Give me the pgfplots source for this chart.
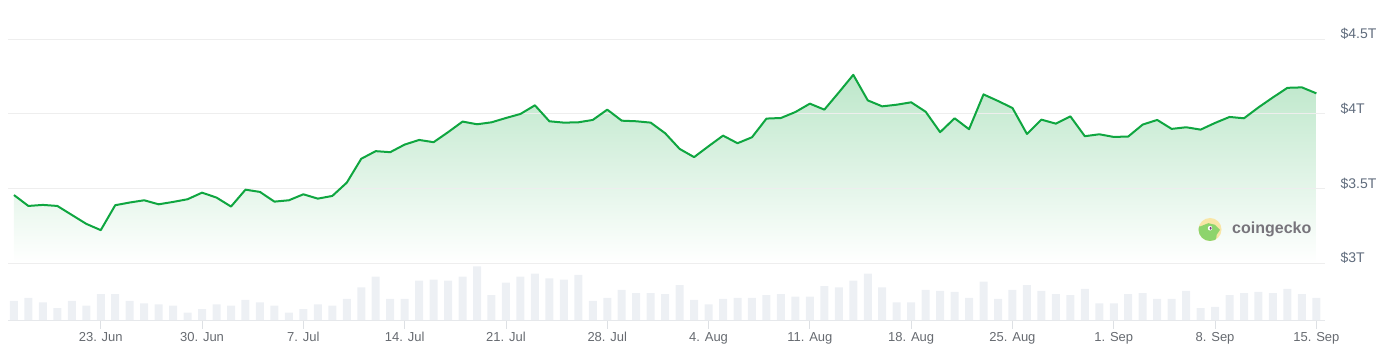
\documentclass[border=0pt]{standalone}
\usepackage{fontspec}
\setmainfont{Liberation Sans}
\usepackage{pgfplots}
\usepackage{pgfplotstable}
\pgfplotsset{compat=1.18}
\definecolor{cgline}{HTML}{0FA640}
\definecolor{filltop}{HTML}{BDE7CA}
\definecolor{gridgray}{HTML}{EEEEEE}
\definecolor{labelgray}{HTML}{5F6B7C}
\definecolor{xlabgray}{HTML}{666A70}
\definecolor{volbar}{HTML}{EDF0F4}
\definecolor{basegray}{HTML}{E6E8EB}
\definecolor{tickgray}{HTML}{DDE0E4}
\definecolor{geckoyellow}{HTML}{F8E6A6}
\definecolor{geckogreen}{HTML}{8DD46C}
\definecolor{geckotext}{HTML}{77747B}

\pgfplotstableread{
d v
0 3.455
1 3.382
2 3.389
3 3.382
4 3.322
5 3.262
6 3.220
7 3.387
8 3.405
9 3.420
10 3.393
11 3.409
12 3.427
13 3.471
14 3.438
15 3.378
16 3.491
17 3.476
18 3.411
19 3.420
20 3.460
21 3.431
22 3.449
23 3.538
24 3.698
25 3.749
26 3.742
27 3.793
28 3.824
29 3.809
30 3.876
31 3.947
32 3.929
33 3.942
34 3.971
35 3.998
36 4.056
37 3.949
38 3.940
39 3.942
40 3.958
41 4.027
42 3.953
43 3.949
44 3.940
45 3.869
46 3.764
47 3.709
48 3.782
49 3.853
50 3.802
51 3.842
52 3.967
53 3.971
54 4.011
55 4.067
56 4.027
57 4.142
58 4.260
59 4.089
60 4.049
61 4.060
62 4.076
63 4.013
64 3.876
65 3.969
66 3.896
67 4.129
68 4.085
69 4.038
70 3.864
71 3.960
72 3.933
73 3.982
74 3.849
75 3.862
76 3.844
77 3.847
78 3.927
79 3.958
80 3.898
81 3.909
82 3.893
83 3.938
84 3.978
85 3.969
86 4.042
87 4.109
88 4.173
89 4.176
90 4.136
}\price

\pgfplotstableread{
d v
0 56
1 65
2 52
3 35
4 56
5 42
6 76
7 76
8 56
9 49
10 46
11 42
12 22
13 32
14 46
15 42
16 59
17 52
18 42
19 22
20 32
21 46
22 42
23 62
24 96
25 128
26 62
27 62
28 116
29 119
30 116
31 128
32 158
33 73
34 110
35 128
36 137
37 123
38 119
39 133
40 56
41 65
42 89
43 79
44 79
45 76
46 103
47 59
48 46
49 62
50 65
51 65
52 73
53 76
54 69
55 69
56 100
57 96
58 116
59 137
60 96
61 52
62 52
63 89
64 86
65 83
66 65
67 113
68 62
69 89
70 103
71 86
72 76
73 73
74 92
75 49
76 49
77 76
78 79
79 62
80 62
81 86
82 35
83 39
84 73
85 79
86 83
87 79
88 92
89 76
90 65
}\volume

\begin{document}
\begin{tikzpicture}[x=1pt,y=1pt]
\useasboundingbox (0,0) rectangle (1386,358);

% volume axis
\begin{axis}[
  at={(8pt,38pt)}, anchor=south west,
  scale only axis, width=1317pt, height=57pt,
  xmin=-0.41, xmax=90.6, ymin=0, ymax=168,
  enlargelimits=false,
  ybar, bar width=8pt,
  axis y line=none,
  axis x line*=bottom,
  x axis line style={-, draw=basegray, line width=0.8pt},
  xtick={6,13,...,90},
  xticklabels={23. Jun,30. Jun,7. Jul,14. Jul,21. Jul,28. Jul,4. Aug,11. Aug,18. Aug,25. Aug,1. Sep,8. Sep,15. Sep},
  xtick align=outside,
  major tick length=9pt,
  tick style={draw=tickgray, line width=0.8pt},
  xticklabel style={font=\fontsize{13}{13}\selectfont, text=xlabgray},
]
\addplot[fill=volbar, draw=none] table[x=d,y=v] {\volume};
\end{axis}

% price fill axis
\begin{axis}[
  at={(8pt,95pt)}, anchor=south west,
  scale only axis, width=1317pt, height=224pt,
  xmin=-0.41, xmax=90.6, ymin=3, ymax=4.5,
  enlargelimits=false,
  hide axis,
]
\addplot[draw=none, top color=filltop, bottom color=white] table[x=d,y=v] {\price} \closedcycle;
\end{axis}

% price line + grid axis
\begin{axis}[
  at={(8pt,95pt)}, anchor=south west,
  scale only axis, width=1317pt, height=224pt,
  xmin=-0.41, xmax=90.6, ymin=3, ymax=4.5,
  enlargelimits=false,
  axis line style={draw=none},
  xtick=\empty,
  ytick={3,3.5,4,4.5},
  yticklabels={\$3T,\$3.5T,\$4T,\$4.5T},
  yticklabel pos=right,
  major tick length=0pt,
  tick style={draw=none},
  ymajorgrids,
  major grid style={draw=gridgray, line width=0.8pt},
  yticklabel style={font=\fontsize{14}{14}\selectfont, text=labelgray, anchor=west, xshift=12pt, yshift=5pt},
]
\addplot[cgline, line width=2pt, line join=round] table[x=d,y=v] {\price};
\end{axis}

% coingecko watermark
\fill[geckoyellow] (1210,128.5) circle (11.5);
\begin{scope}[shift={(1210,128.5)}]
\clip (0,0) circle (11.5);
\fill[geckogreen] (-12,3) -- (-10,3) -- (-1.7,6.3) -- (5,4.7) -- (10,-0.3) -- (6.7,-5.3) -- (5.7,-12) -- (-12,-12) -- cycle;
\fill[white] (0,1.3) ellipse (2.2 and 2.4);
\fill[violet!60!gray] (0.6,1.3) ellipse (1.1 and 1.6);
\end{scope}
\node[anchor=west, text=geckotext, font=\fontsize{16}{16}\selectfont\bfseries, inner sep=0pt] at (1232,128.5) {coingecko};
\end{tikzpicture}
\end{document}
